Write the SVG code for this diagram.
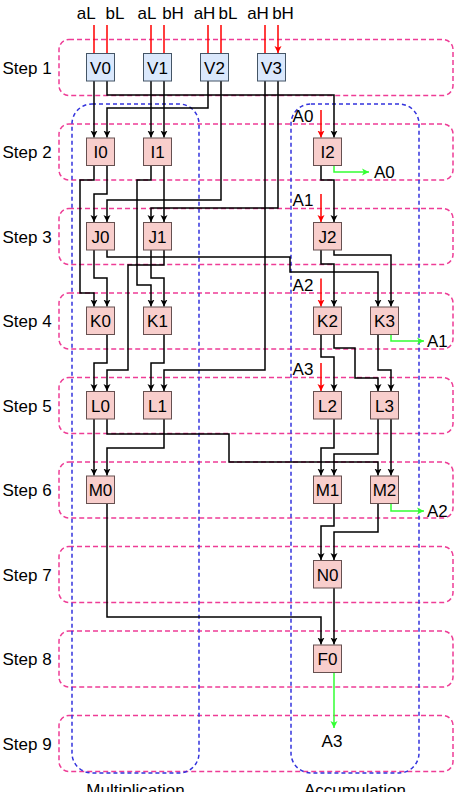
<svg xmlns="http://www.w3.org/2000/svg" width="460" height="792" viewBox="0 0 460 792">
<style>
text{font-family:"Liberation Sans",Arial,sans-serif;font-size:17px;fill:#000}
.band{fill:none;stroke:#ee3d96;stroke-width:1.5;stroke-dasharray:5 3}
.grp{fill:none;stroke:#3333dd;stroke-width:1.5;stroke-dasharray:4 3}
.nb rect{fill:#dae8fc;stroke:#445566;stroke-width:1}
.np rect{fill:#f8cecc;stroke:#665050;stroke-width:1}
.node text{text-anchor:middle}
.w{fill:none;stroke:#000;stroke-width:1.5;marker-end:url(#ab)}
.r{fill:none;stroke:#ff0000;stroke-width:1.5;marker-end:url(#ar)}
.g{fill:none;stroke:#33ff33;stroke-width:1.5;marker-end:url(#ag)}
</style>
<defs>
<marker id="ab" markerWidth="8" markerHeight="8" refX="7" refY="4" orient="auto" markerUnits="userSpaceOnUse"><path d="M0,0.5 L7,4 L0,7.5 L1.8,4 z" fill="#000"/></marker>
<marker id="ar" markerWidth="8" markerHeight="8" refX="7" refY="4" orient="auto" markerUnits="userSpaceOnUse"><path d="M0,0.5 L7,4 L0,7.5 L1.8,4 z" fill="#ff0000"/></marker>
<marker id="ag" markerWidth="8" markerHeight="8" refX="7" refY="4" orient="auto" markerUnits="userSpaceOnUse"><path d="M0,0.5 L7,4 L0,7.5 L1.8,4 z" fill="#33ff33"/></marker>
</defs>
<g id="steps">
<rect class="band" x="59" y="39.5" width="394" height="56" rx="10"/>
<rect class="band" x="59" y="124" width="394" height="56" rx="10"/>
<rect class="band" x="59" y="208.5" width="394" height="56" rx="10"/>
<rect class="band" x="59" y="293" width="394" height="56" rx="10"/>
<rect class="band" x="59" y="377.5" width="394" height="56" rx="10"/>
<rect class="band" x="59" y="462" width="394" height="56" rx="10"/>
<rect class="band" x="59" y="546.5" width="394" height="56" rx="10"/>
<rect class="band" x="59" y="631" width="394" height="56" rx="10"/>
<rect class="band" x="59" y="715.5" width="394" height="56" rx="10"/>
<text x="2.5" y="73.5">Step 1</text>
<text x="2.5" y="158">Step 2</text>
<text x="2.5" y="242.5">Step 3</text>
<text x="2.5" y="327">Step 4</text>
<text x="2.5" y="411.5">Step 5</text>
<text x="2.5" y="496">Step 6</text>
<text x="2.5" y="580.5">Step 7</text>
<text x="2.5" y="665">Step 8</text>
<text x="2.5" y="749.5">Step 9</text>
</g>
<g id="multiplication">
<rect class="grp" x="72" y="104" width="127" height="669" rx="20"/>
<text x="135.5" y="796" text-anchor="middle">Multiplication</text>
</g>
<g id="accumulation">
<rect class="grp" x="291" y="104" width="128" height="669" rx="20"/>
<text x="355" y="796" text-anchor="middle">Accumulation</text>
</g>
<g id="inputs">
<text x="86.3" y="18.5" text-anchor="middle">aL</text>
<text x="115" y="18.5" text-anchor="middle">bL</text>
<text x="147" y="18.5" text-anchor="middle">aL</text>
<text x="173" y="18.5" text-anchor="middle">bH</text>
<text x="204.5" y="18.5" text-anchor="middle">aH</text>
<text x="228" y="18.5" text-anchor="middle">bL</text>
<text x="258" y="18.5" text-anchor="middle">aH</text>
<text x="283" y="18.5" text-anchor="middle">bH</text>
<text x="303" y="122" text-anchor="middle">A0</text>
<text x="303" y="206" text-anchor="middle">A1</text>
<text x="303" y="290.5" text-anchor="middle">A2</text>
<text x="303" y="375" text-anchor="middle">A3</text>
<text x="374" y="178">A0</text>
<text x="427" y="347">A1</text>
<text x="427" y="517">A2</text>
<text x="332" y="747" text-anchor="middle">A3</text>
</g>
<g id="connectors">
<path class="r" d="M94,25V53M107,25V53M151,25V53M164,25V53M208,25V53M221,25V53M265,25V53M278,25V53"/>
<path class="r" d="M321,110V137.5"/>
<path class="r" d="M321,194V222"/>
<path class="r" d="M321,278.5V306.5"/>
<path class="r" d="M321,363V391"/>
<path class="w" d="M94,81V137.5"/>
<path class="w" d="M107,81V95H334V137.5"/>
<path class="w" d="M208,81V108H107V137.5"/>
<path class="w" d="M151,81V137.5"/>
<path class="w" d="M164,81V137.5"/>
<path class="w" d="M221,81V200H107V222"/>
<path class="w" d="M278,81V208H151V222"/>
<path class="w" d="M265,81V370H164V391"/>
<path class="w" d="M94,165.5V180H80V293H94V306.5"/>
<path class="w" d="M107,165.5V194H94V222"/>
<path class="w" d="M151,165.5V180H137V285H151V306.5"/>
<path class="w" d="M164,165.5V222"/>
<path class="w" d="M94,250V278H107V306.5"/>
<path class="w" d="M107,250V257H290V272H378V306.5"/>
<path class="w" d="M151,250V278H164V306.5"/>
<path class="w" d="M164,250V265H128V370H107V391"/>
<path class="w" d="M107,334.5V363H94V391"/>
<path class="w" d="M164,334.5V363H151V391"/>
<path class="w" d="M94,419V475.5"/>
<path class="w" d="M107,419V434H229V462H378V475.5"/>
<path class="w" d="M164,419V448H107V475.5"/>
<path class="w" d="M107,503.5V617H321V644.5"/>
<path class="w" d="M321,165.5V180H334V222"/>
<path class="w" d="M321,250V264H334V306.5"/>
<path class="w" d="M334,250V255H391V306.5"/>
<path class="w" d="M321,334.5V357H334V391"/>
<path class="w" d="M334,334.5V348H355V378H378V391"/>
<path class="w" d="M378,334.5V370H391V391"/>
<path class="w" d="M334,419V448H321V475.5"/>
<path class="w" d="M378,419V454H334V475.5"/>
<path class="w" d="M391,419V475.5"/>
<path class="w" d="M334,503.5V526H321V560"/>
<path class="w" d="M378,503.5V532H334V560"/>
<path class="w" d="M334,588V644.5"/>
<path class="g" d="M334,165.5V172H369"/>
<path class="g" d="M391,334.5V341H424"/>
<path class="g" d="M391,503.5V511H424"/>
<path class="g" d="M334,672.5V728"/>
</g>
<g id="V0" class="node nb"><rect x="86.5" y="53.5" width="28" height="27.5"/><text x="100.5" y="73.5">V0</text></g>
<g id="V1" class="node nb"><rect x="143.5" y="53.5" width="28" height="27.5"/><text x="157.5" y="73.5">V1</text></g>
<g id="V2" class="node nb"><rect x="200.5" y="53.5" width="28" height="27.5"/><text x="214.5" y="73.5">V2</text></g>
<g id="V3" class="node nb"><rect x="257.5" y="53.5" width="28" height="27.5"/><text x="271.5" y="73.5">V3</text></g>
<g id="I0" class="node np"><rect x="86.5" y="138" width="28" height="27.5"/><text x="100.5" y="158">I0</text></g>
<g id="I1" class="node np"><rect x="143.5" y="138" width="28" height="27.5"/><text x="157.5" y="158">I1</text></g>
<g id="I2" class="node np"><rect x="313.5" y="138" width="28" height="27.5"/><text x="327.5" y="158">I2</text></g>
<g id="J0" class="node np"><rect x="86.5" y="222.5" width="28" height="27.5"/><text x="100.5" y="242.5">J0</text></g>
<g id="J1" class="node np"><rect x="143.5" y="222.5" width="28" height="27.5"/><text x="157.5" y="242.5">J1</text></g>
<g id="J2" class="node np"><rect x="313.5" y="222.5" width="28" height="27.5"/><text x="327.5" y="242.5">J2</text></g>
<g id="K0" class="node np"><rect x="86.5" y="307" width="28" height="27.5"/><text x="100.5" y="327">K0</text></g>
<g id="K1" class="node np"><rect x="143.5" y="307" width="28" height="27.5"/><text x="157.5" y="327">K1</text></g>
<g id="K2" class="node np"><rect x="313.5" y="307" width="28" height="27.5"/><text x="327.5" y="327">K2</text></g>
<g id="K3" class="node np"><rect x="370.5" y="307" width="28" height="27.5"/><text x="384.5" y="327">K3</text></g>
<g id="L0" class="node np"><rect x="86.5" y="391.5" width="28" height="27.5"/><text x="100.5" y="411.5">L0</text></g>
<g id="L1" class="node np"><rect x="143.5" y="391.5" width="28" height="27.5"/><text x="157.5" y="411.5">L1</text></g>
<g id="L2" class="node np"><rect x="313.5" y="391.5" width="28" height="27.5"/><text x="327.5" y="411.5">L2</text></g>
<g id="L3" class="node np"><rect x="370.5" y="391.5" width="28" height="27.5"/><text x="384.5" y="411.5">L3</text></g>
<g id="M0" class="node np"><rect x="86.5" y="476" width="28" height="27.5"/><text x="100.5" y="496">M0</text></g>
<g id="M1" class="node np"><rect x="313.5" y="476" width="28" height="27.5"/><text x="327.5" y="496">M1</text></g>
<g id="M2" class="node np"><rect x="370.5" y="476" width="28" height="27.5"/><text x="384.5" y="496">M2</text></g>
<g id="N0" class="node np"><rect x="313.5" y="560.5" width="28" height="27.5"/><text x="327.5" y="580.5">N0</text></g>
<g id="F0" class="node np"><rect x="313.5" y="645" width="28" height="27.5"/><text x="327.5" y="665">F0</text></g>
</svg>
